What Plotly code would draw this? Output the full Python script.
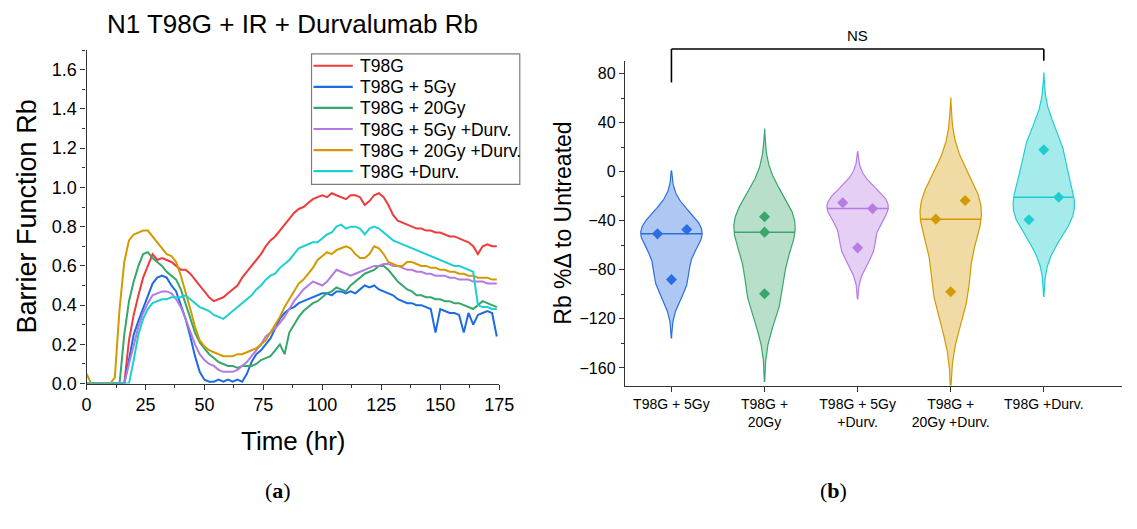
import numpy as np
import plotly.graph_objects as go

# ---------------- Panel (a): barrier function time course ----------------
time_hr = list(range(0, 176, 2))

rb_t98g = [0, 0, 0, 0, 0, 0, 0, 0, 0,
           0.22, 0.35, 0.45, 0.54, 0.60, 0.66, 0.63, 0.64, 0.63, 0.62, 0.60, 0.58, 0.58, 0.56, 0.53,
           0.50, 0.47, 0.44, 0.42, 0.43, 0.44, 0.46, 0.48, 0.50, 0.54, 0.57, 0.60, 0.63, 0.66, 0.70,
           0.73, 0.75, 0.78, 0.81, 0.84, 0.87, 0.89, 0.90, 0.92, 0.94, 0.95, 0.96, 0.95, 0.97, 0.96,
           0.95, 0.94, 0.96, 0.96, 0.95, 0.91, 0.93, 0.96, 0.97, 0.95, 0.91, 0.86, 0.83, 0.82, 0.81,
           0.80, 0.79, 0.79, 0.78, 0.78, 0.77, 0.77, 0.76, 0.75, 0.75, 0.74, 0.73, 0.72, 0.70, 0.66,
           0.70, 0.71, 0.70, 0.70]

rb_5gy = [0, 0, 0, 0, 0, 0, 0, 0, 0,
          0.12, 0.25, 0.32, 0.38, 0.45, 0.51, 0.54, 0.55, 0.54, 0.50, 0.47, 0.40, 0.33, 0.24, 0.14,
          0.06, 0.02, 0.01, 0.01, 0.02, 0.01, 0.02, 0.01, 0.02, 0.01, 0.05, 0.11, 0.15, 0.17, 0.20,
          0.23, 0.28, 0.33, 0.36, 0.38, 0.39, 0.41, 0.42, 0.43, 0.44, 0.45, 0.46, 0.46, 0.45, 0.47,
          0.47, 0.46, 0.47, 0.46, 0.48, 0.50, 0.49, 0.50, 0.48, 0.47, 0.46, 0.45, 0.43, 0.42, 0.41,
          0.41, 0.40, 0.40, 0.39, 0.38, 0.26, 0.38, 0.37, 0.36, 0.36, 0.35, 0.26, 0.36, 0.30, 0.35,
          0.36, 0.37, 0.36, 0.24]

rb_20gy = [0, 0, 0, 0, 0, 0, 0, 0,
           0.25, 0.42, 0.52, 0.60, 0.66, 0.67, 0.64, 0.62, 0.60, 0.57, 0.55, 0.53, 0.48, 0.41, 0.33,
           0.26, 0.21, 0.18, 0.15, 0.13, 0.11, 0.10, 0.09, 0.09, 0.08, 0.09, 0.09, 0.09, 0.10, 0.12,
           0.13, 0.14, 0.17, 0.20, 0.15, 0.26, 0.30, 0.34, 0.37, 0.39, 0.41, 0.42, 0.44, 0.46, 0.47,
           0.49, 0.48, 0.47, 0.50, 0.52, 0.54, 0.56, 0.57, 0.58, 0.60, 0.60, 0.58, 0.55, 0.52, 0.50,
           0.48, 0.47, 0.45, 0.45, 0.44, 0.44, 0.43, 0.43, 0.42, 0.42, 0.41, 0.41, 0.40, 0.39, 0.38,
           0.40, 0.42, 0.41, 0.40, 0.39]

rb_5gy_durv = [0, 0, 0, 0, 0, 0, 0, 0, 0,
               0.10, 0.20, 0.29, 0.36, 0.41, 0.45, 0.46, 0.47, 0.47, 0.46, 0.43, 0.39, 0.33, 0.26,
               0.20, 0.15, 0.12, 0.10, 0.09, 0.07, 0.06, 0.06, 0.06, 0.07, 0.09, 0.11, 0.14, 0.17,
               0.20, 0.24, 0.26, 0.28, 0.31, 0.34, 0.38, 0.42, 0.45, 0.48, 0.50, 0.52, 0.51, 0.50,
               0.52, 0.55, 0.58, 0.57, 0.56, 0.55, 0.56, 0.57, 0.58, 0.59, 0.60, 0.60, 0.61, 0.61,
               0.60, 0.60, 0.59, 0.58, 0.58, 0.57, 0.57, 0.56, 0.56, 0.55, 0.55, 0.55, 0.54, 0.54,
               0.53, 0.53, 0.53, 0.52, 0.52, 0.52, 0.51, 0.51, 0.51]

rb_20gy_durv = [0.05, 0, 0, 0, 0, 0,
                0.03, 0.38, 0.62, 0.73, 0.76, 0.77, 0.78, 0.78, 0.75, 0.72, 0.69, 0.66, 0.65, 0.62,
                0.55, 0.47, 0.38, 0.29, 0.22, 0.19, 0.17, 0.16, 0.15, 0.14, 0.14, 0.14, 0.15, 0.15,
                0.16, 0.17, 0.18, 0.20, 0.22, 0.26, 0.30, 0.34, 0.39, 0.43, 0.47, 0.51, 0.53, 0.56,
                0.59, 0.63, 0.65, 0.67, 0.66, 0.68, 0.69, 0.70, 0.69, 0.66, 0.64, 0.64, 0.66, 0.70,
                0.69, 0.66, 0.62, 0.61, 0.60, 0.60, 0.62, 0.62, 0.61, 0.60, 0.60, 0.59, 0.59, 0.58,
                0.58, 0.57, 0.57, 0.56, 0.56, 0.55, 0.55, 0.54, 0.54, 0.54, 0.53, 0.53]

rb_durv = [0, 0, 0, 0, 0, 0, 0, 0, 0, 0,
           0.12, 0.25, 0.33, 0.38, 0.41, 0.42, 0.43, 0.43, 0.44, 0.44, 0.44, 0.45, 0.43, 0.41,
           0.39, 0.38, 0.37, 0.35, 0.34, 0.33, 0.35, 0.37, 0.39, 0.41, 0.43, 0.45, 0.48, 0.50,
           0.53, 0.55, 0.56, 0.59, 0.61, 0.63, 0.66, 0.69, 0.70, 0.71, 0.72, 0.72, 0.74, 0.76,
           0.77, 0.80, 0.81, 0.79, 0.80, 0.80, 0.79, 0.76, 0.79, 0.80, 0.79, 0.77, 0.75, 0.73,
           0.72, 0.71, 0.70, 0.69, 0.68, 0.67, 0.66, 0.65, 0.64, 0.63, 0.62, 0.61, 0.60, 0.60,
           0.59, 0.58, 0.57, 0.40, 0.39, 0.39, 0.38, 0.38]

series_names = ["T98G", "T98G + 5Gy", "T98G + 20Gy", "T98G + 5Gy +Durv.",
                "T98G + 20Gy +Durv.", "T98G +Durv."]
series_values = [rb_t98g, rb_5gy, rb_20gy, rb_5gy_durv, rb_20gy_durv, rb_durv]
series_colors = ["#EF3B3B", "#1C6BE3", "#35A76A", "#B27AE2", "#D29A00", "#1DCFD0"]

# ---------------- Panel (b): % change violins ----------------
group_labels = ["T98G + 5Gy", "T98G +<br>20Gy", "T98G + 5Gy<br>+Durv.",
                "T98G +<br>20Gy +Durv.", "T98G +Durv."]
group_values = [
    [-50.7, -47.2, -88.0],
    [-36.8, -49.3, -99.5],
    [-25.3, -30.1, -62.1],
    [-38.7, -23.5, -97.9],
    [-39.2, -20.8, 17.8],
]
group_bandwidth = [16, 24, 14, 28, 21]
group_colors = ["#2A6FE0", "#3AA56C", "#B67BE4", "#D29A00", "#1FCDD0"]
group_fills = ["rgba(42,111,224,0.38)", "rgba(58,165,108,0.36)", "rgba(182,123,228,0.36)",
               "rgba(210,154,0,0.36)", "rgba(31,205,208,0.40)"]
point_offset = [[-0.15, 0.165, 0.0], [0.0, 0.0, 0.0], [-0.16, 0.16, 0.0],
                [-0.16, 0.155, 0.0], [-0.16, 0.16, 0.0]]

W, H = 1137, 529
FONT = "Arial, Liberation Sans, sans-serif"


def px_x(p):
    return p / W


def px_y(p):
    return 1 - p / H


fig = go.Figure()

for name, vals, col in zip(series_names, series_values, series_colors):
    fig.add_trace(go.Scatter(x=time_hr, y=vals, name=name, mode="lines",
                             line=dict(color=col, width=2), showlegend=False,
                             xaxis="x", yaxis="y"))

half_width = 0.33
for i, (vals, bw) in enumerate(zip(group_values, group_bandwidth)):
    v = np.array(vals, dtype=float)
    ys = np.linspace(v.min() - 3 * bw, v.max() + 3 * bw, 300)
    dens = np.exp(-0.5 * ((ys[:, None] - v[None, :]) / bw) ** 2).sum(axis=1)
    hw = half_width * dens / dens.max()
    xs = np.concatenate([i - hw, (i + hw)[::-1]])
    yy = np.concatenate([ys, ys[::-1]])
    fig.add_trace(go.Scatter(x=xs, y=yy, mode="lines", fill="toself",
                             fillcolor=group_fills[i],
                             line=dict(color=group_colors[i], width=1.2),
                             showlegend=False, hoverinfo="skip",
                             xaxis="x2", yaxis="y2"))
    med = float(np.median(v))
    mhw = float(np.interp(med, ys, hw))
    fig.add_trace(go.Scatter(x=[i - mhw, i + mhw], y=[med, med], mode="lines",
                             line=dict(color=group_colors[i], width=1.5),
                             showlegend=False, hoverinfo="skip",
                             xaxis="x2", yaxis="y2"))
    fig.add_trace(go.Scatter(x=[i + o for o in point_offset[i]], y=vals, mode="markers",
                             marker=dict(symbol="diamond", size=8.5, color=group_colors[i]),
                             showlegend=False, xaxis="x2", yaxis="y2"))

axis_common = dict(showline=True, linecolor="#333333", linewidth=1.3, ticks="outside",
                   tickcolor="#333333", tickwidth=1.2, showgrid=False, zeroline=False,
                   mirror=False)

fig.update_layout(
    width=W, height=H,
    margin=dict(l=0, r=0, t=0, b=0),
    paper_bgcolor="white", plot_bgcolor="white",
    font=dict(family=FONT, color="black"),
    showlegend=False,
    xaxis=dict(domain=[px_x(83), px_x(503)], range=[0, 175], tickvals=[0, 25, 50, 75, 100, 125, 150, 175],
               ticklen=5, tickfont=dict(size=18), anchor="y",
               minor=dict(dtick=12.5, tick0=0, ticklen=3, ticks="outside", tickcolor="#333333"),
               **axis_common),
    yaxis=dict(domain=[px_y(391), px_y(51)], range=[0, 1.7],
               tickvals=[0, 0.2, 0.4, 0.6, 0.8, 1.0, 1.2, 1.4, 1.6], tickformat=".1f",
               ticklen=5, tickfont=dict(size=18), anchor="x",
               minor=dict(dtick=0.1, tick0=0, ticklen=3, ticks="outside", tickcolor="#333333"),
               **axis_common),
    xaxis2=dict(domain=[px_x(631), 1.0], range=[-0.5, 4.84], tickvals=list(range(5)),
                ticktext=group_labels, ticklen=5, tickfont=dict(size=14), anchor="y2",
                **axis_common),
    yaxis2=dict(domain=[px_y(393), px_y(62)], range=[-174.4, 90.4],
                tickvals=[-160, -120, -80, -40, 0, 40, 80], ticklen=5,
                tickfont=dict(size=16), anchor="x2",
                minor=dict(dtick=20, tick0=0, ticklen=3, ticks="outside", tickcolor="#333333"),
                **axis_common),
)

annotations = [
    dict(text="N1 T98G + IR + Durvalumab Rb", x=px_x(293), y=px_y(24), font=dict(size=26)),
    dict(text="Barrier Function Rb", x=px_x(22), y=px_y(221), textangle=-90, font=dict(size=27)),
    dict(text="Time (hr)", x=px_x(293), y=px_y(450), font=dict(size=26)),
    dict(text="(<b>a</b>)", x=px_x(278), y=px_y(500),
         font=dict(size=22, family="Liberation Serif, Times New Roman, serif")),
    dict(text="Rb %Δ to Untreated", x=px_x(568), y=px_y(228), textangle=-90, font=dict(size=23)),
    dict(text="NS", x=px_x(868), y=px_y(36), font=dict(size=15)),
    dict(text="(<b>b</b>)", x=px_x(843), y=px_y(500),
         font=dict(size=22, family="Liberation Serif, Times New Roman, serif")),
]
for a in annotations:
    a.update(xref="paper", yref="paper", showarrow=False, xanchor="center", yanchor="middle")

# legend box for panel (a): framed list of line samples and series names
legend_rows_px = [67, 88.5, 110, 131.5, 153, 174.5]
fig.add_shape(type="rect", xref="paper", yref="paper",
              x0=px_x(312), x1=px_x(524), y0=px_y(188), y1=px_y(55),
              line=dict(color="#7F7F7F", width=1.2), fillcolor="white", layer="above")
for name, col, ry in zip(series_names, series_colors, legend_rows_px):
    fig.add_shape(type="line", xref="paper", yref="paper",
                  x0=px_x(314), x1=px_x(354), y0=px_y(ry), y1=px_y(ry),
                  line=dict(color=col, width=2.2), layer="above")
    annotations.append(dict(text=name, x=px_x(359), y=px_y(ry + 0.5), xref="paper", yref="paper",
                            showarrow=False, xanchor="left", yanchor="middle",
                            font=dict(size=17.5)))
fig.update_layout(annotations=annotations)

# significance bracket between the first and last groups
bracket = dict(type="line", xref="x2", yref="paper", line=dict(color="black", width=1.6))
fig.add_shape(**bracket, x0=0, x1=4, y0=px_y(50), y1=px_y(50))
fig.add_shape(**bracket, x0=0, x1=0, y0=px_y(50), y1=px_y(84))
fig.add_shape(**bracket, x0=4, x1=4, y0=px_y(50), y1=px_y(62))

fig.write_html("out.html")
